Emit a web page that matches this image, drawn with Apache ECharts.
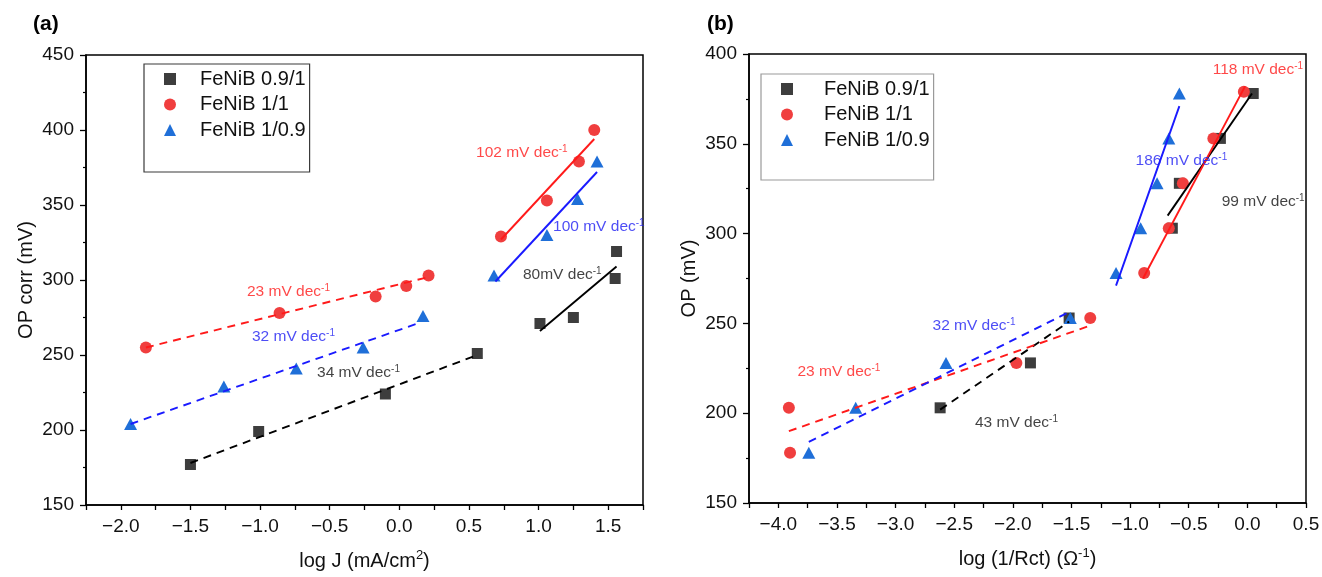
<!DOCTYPE html>
<html>
<head>
<meta charset="utf-8">
<script src="https://cdn.jsdelivr.net/npm/echarts@6/dist/echarts.min.js"></script>
<style>
html,body{margin:0;padding:0;background:#fff;}
#c{width:1322px;height:577px;}
</style>
</head>
<body>
<div id="c"></div>
<script>
// ---------- Panel (a) data ----------
const aSqX  = [-1.50, -1.01, -0.10, 0.56, 1.01, 1.25, 1.55, 1.56];
const aSqY  = [177, 199, 224, 251, 271, 275, 301, 319];
const aCirX = [-1.82, -0.86, -0.17, 0.05, 0.21, 0.73, 1.06, 1.29, 1.40];
const aCirY = [255, 278, 289, 296, 303, 329, 353, 379, 400];
const aTriX = [-1.93, -1.26, -0.74, -0.26, 0.17, 0.68, 1.06, 1.28, 1.42];
const aTriY = [204, 229, 241, 255, 276, 303, 330, 354, 379];
const aFitSqLo  = [[-1.50, 178], [0.56, 250]];
const aFitCirLo = [[-1.82, 255], [0.21, 302]];
const aFitTriLo = [[-1.93, 204], [0.13, 271]];
const aFitSqHi  = [[1.01, 266], [1.56, 309]];
const aFitCirHi = [[0.73, 327], [1.40, 394]];
const aFitTriHi = [[0.69, 299], [1.42, 372]];
const aNotes = [
  ['23 mV dec', -1.094, 292, 'r'],
  ['32 mV dec', -1.058, 262, 'b'],
  ['34 mV dec', -0.591, 238, 'k'],
  ['102 mV dec', 0.551, 384.7, 'r'],
  ['100 mV dec', 1.104, 335.3, 'b'],
  ['80mV dec', 0.888, 303.3, 'k']
];

// ---------- Panel (b) data ----------
const bSqX  = [-2.62, -1.85, -1.52, -0.64, -0.58, -0.23, 0.05];
const bSqY  = [203, 228, 253, 303, 328, 353, 378];
const bCirX = [-3.91, -3.90, -1.97, -1.34, -0.88, -0.67, -0.55, -0.29, -0.03];
const bCirY = [203, 178, 228, 253, 278, 303, 328, 353, 379];
const bTriX = [-3.74, -3.34, -2.57, -1.51, -1.12, -0.91, -0.77, -0.67, -0.58];
const bTriY = [178, 203, 228, 253, 278, 303, 328, 353, 378];
const bFitSqLo  = [[-2.62, 202], [-1.52, 251]];
const bFitCirLo = [[-3.91, 190], [-1.33, 249]];
const bFitTriLo = [[-3.74, 184], [-1.53, 256]];
const bFitSqHi  = [[-0.68, 310], [0.04, 378]];
const bFitCirHi = [[-0.89, 275], [-0.02, 382]];
const bFitTriHi = [[-1.12, 271], [-0.58, 371]];
const bNotes = [
  ['118 mV dec', -0.296, 391.2, 'r'],
  ['186 mV dec', -0.953, 340.5, 'b'],
  ['99 mV dec', -0.219, 317.7, 'k'],
  ['32 mV dec', -2.685, 248.5, 'b'],
  ['23 mV dec', -3.837, 223, 'r'],
  ['43 mV dec', -2.323, 194.5, 'k']
];

const seriesNames = ['FeNiB 0.9/1', 'FeNiB 1/1', 'FeNiB 1/0.9'];
const aTicksY = [150, 450, 50];
const bTicksY = [150, 400, 50];

// ---------- styling ----------
const FONT = "'Liberation Sans', Arial, sans-serif";
const markerColors = ['#3d3d3d', '#f03e3e', '#1f6fd8'];
const lineColors = ['#000000', '#ff1a1a', '#1a1aff'];
const noteColors = {r: '#ff1a1a', b: '#2020f2', k: '#111111'};

function zip(xs, ys) { return xs.map((x, i) => [x, ys[i]]); }
function fmtX(v) {
  if (Math.abs(v * 2 - Math.round(v * 2)) > 1e-6) return '';
  return (v < 0 ? '\u2212' : '') + Math.abs(v).toFixed(1);
}
const supRich = {
  sup: {fontSize: 13, padding: [0, 0, 11, 0], fontFamily: FONT, color: '#111'}
};

function xAxis(gi, min, max, name) {
  return {
    type: 'value', gridIndex: gi, min: min, max: max, interval: 0.25,
    name: name, nameLocation: 'middle', nameGap: 44,
    nameTextStyle: {fontSize: 20, color: '#111', fontFamily: FONT, rich: supRich},
    splitLine: {show: false},
    axisLine: {onZero: false, lineStyle: {color: '#000', width: 1.5}},
    axisTick: {show: true, inside: false, length: 5, lineStyle: {color: '#000', width: 1.3}},
    axisLabel: {formatter: fmtX, fontSize: 19, color: '#111', margin: 12, fontFamily: FONT,
      showMinLabel: true, showMaxLabel: true}
  };
}
function yAxis(gi, t, name, gap) {
  return {
    type: 'value', gridIndex: gi, min: t[0], max: t[1], interval: t[2],
    name: name, nameLocation: 'middle', nameGap: gap,
    nameTextStyle: {fontSize: 20, color: '#111', fontFamily: FONT},
    splitLine: {show: false},
    axisLine: {onZero: false, lineStyle: {color: '#000', width: 1.5}},
    axisTick: {show: true, inside: false, length: 6, lineStyle: {color: '#000', width: 1.3}},
    minorTick: {show: true, splitNumber: 2, length: 3, lineStyle: {color: '#000', width: 1.2}},
    axisLabel: {fontSize: 19, color: '#111', margin: 12, fontFamily: FONT}
  };
}
function scatter(gi, idx, xs, ys) {
  const sym = ['rect', 'circle', 'triangle'][idx];
  const size = [11, 12, [13, 12]][idx];
  return {
    type: 'scatter', name: seriesNames[idx], xAxisIndex: gi, yAxisIndex: gi,
    symbol: sym, symbolSize: size, data: zip(xs, ys),
    itemStyle: {color: markerColors[idx], opacity: 1}, z: 2 + idx * 0.1
  };
}
function fit(gi, idx, pts, dashed) {
  return {
    type: 'line', xAxisIndex: gi, yAxisIndex: gi, data: pts,
    showSymbol: false, symbol: 'none', silent: true, z: 4,
    lineStyle: {color: lineColors[idx], width: 1.9, type: dashed ? [8, 6] : 'solid'}
  };
}
function notes(gi, arr) {
  return {
    type: 'scatter', xAxisIndex: gi, yAxisIndex: gi, symbolSize: 0, silent: true, z: 5,
    data: arr.map(n => ({name: n[0], value: [n[1], n[2]], label: {color: noteColors[n[3]]}})),
    label: {
      show: true, position: 'right', distance: 0,
      formatter: p => '{a|' + p.name + '}{s|-1}',
      rich: {
        a: {fontSize: 15.5, fontFamily: FONT},
        s: {fontSize: 10, fontFamily: FONT, padding: [0, 0, 8, 0]}
      }
    }
  };
}
function legend(left, top, pad, textPad, border) {
  return {
    orient: 'vertical', left: left, top: top,
    itemWidth: 12, itemHeight: 12, itemGap: 5.5,
    padding: pad, borderColor: border, borderWidth: 1.2, backgroundColor: '#fff',
    textStyle: {fontSize: 20, color: '#111', fontFamily: FONT, padding: [0, 0, 0, textPad]},
    data: [
      {name: seriesNames[0], icon: 'rect'},
      {name: seriesNames[1], icon: 'circle'},
      {name: seriesNames[2], icon: 'triangle'}
    ],
    selectedMode: false
  };
}

const option = {
  animation: false,
  backgroundColor: '#fff',
  textStyle: {fontFamily: FONT},
  title: [
    {text: '(a)', left: 33, top: 14, padding: 0, textStyle: {fontSize: 21, fontWeight: 'bold', color: '#000', fontFamily: FONT}},
    {text: '(b)', left: 707, top: 14, padding: 0, textStyle: {fontSize: 21, fontWeight: 'bold', color: '#000', fontFamily: FONT}}
  ],
  grid: [
    {left: 86, top: 55, width: 557, height: 450, show: true, borderColor: '#000', borderWidth: 1.5,
     backgroundColor: 'transparent', containLabel: false, outerBoundsMode: 'none'},
    {left: 749, top: 54, width: 557, height: 449, show: true, borderColor: '#000', borderWidth: 1.5,
     backgroundColor: 'transparent', containLabel: false, outerBoundsMode: 'none'}
  ],
  legend: [
    legend(144, 64, [5, 4, 32, 20], 19, '#3a3a3a'),
    legend(761, 74, [5, 4, 30, 20], 26, '#9a9a9a')
  ],
  xAxis: [
    xAxis(0, -2.25, 1.75, 'log J (mA/cm{sup|2})'),
    xAxis(1, -4.25, 0.5, 'log (1/Rct) (\u03A9{sup|-1})')
  ],
  yAxis: [
    yAxis(0, aTicksY, 'OP corr (mV)', 50),
    yAxis(1, bTicksY, 'OP (mV)', 50)
  ],
  series: [
    scatter(0, 0, aSqX, aSqY), scatter(0, 1, aCirX, aCirY), scatter(0, 2, aTriX, aTriY),
    fit(0, 0, aFitSqLo, true), fit(0, 1, aFitCirLo, true), fit(0, 2, aFitTriLo, true),
    fit(0, 0, aFitSqHi, false), fit(0, 1, aFitCirHi, false), fit(0, 2, aFitTriHi, false),
    notes(0, aNotes),
    scatter(1, 0, bSqX, bSqY), scatter(1, 1, bCirX, bCirY), scatter(1, 2, bTriX, bTriY),
    fit(1, 0, bFitSqLo, true), fit(1, 1, bFitCirLo, true), fit(1, 2, bFitTriLo, true),
    fit(1, 0, bFitSqHi, false), fit(1, 1, bFitCirHi, false), fit(1, 2, bFitTriHi, false),
    notes(1, bNotes)
  ]
};

const chart = echarts.init(document.getElementById('c'), null, {renderer: 'canvas'});
chart.setOption(option);
</script>
</body>
</html>
